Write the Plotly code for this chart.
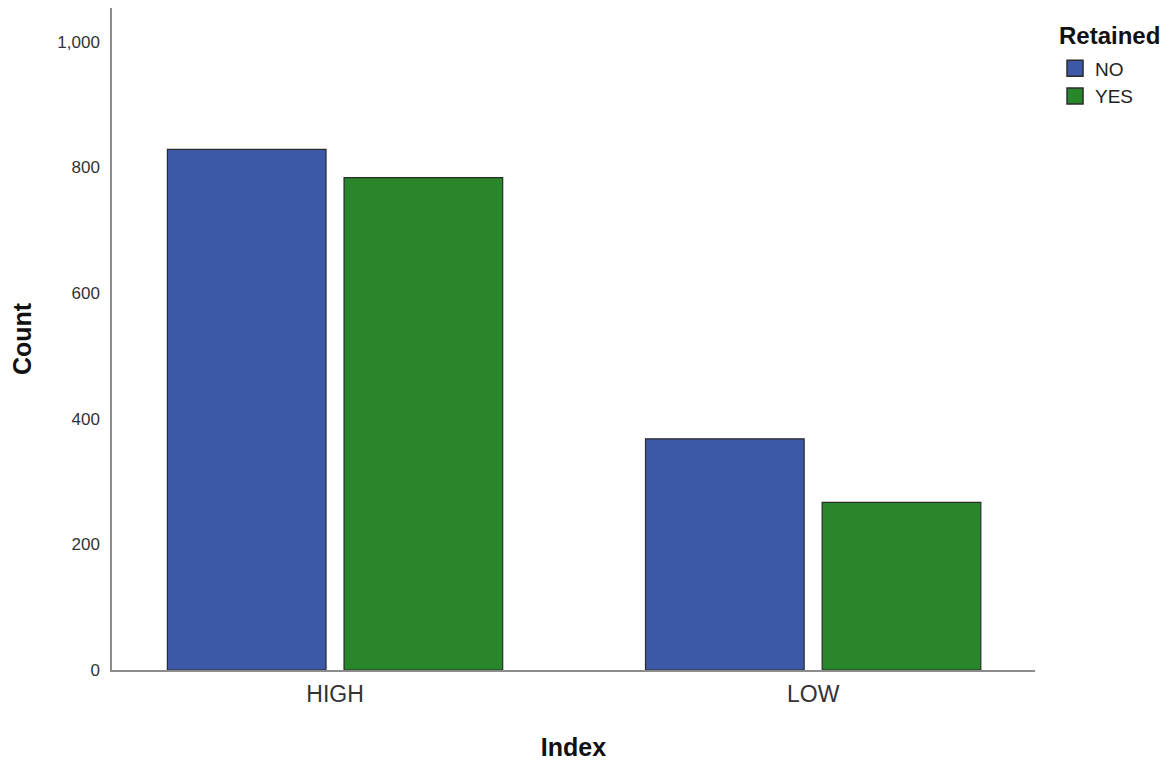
import plotly.graph_objects as go

categories = ["HIGH", "LOW"]
no_counts = [829, 368]
yes_counts = [784, 267]
series_names = ["NO", "YES"]
legend_title = "Retained"
y_ticks = [0, 200, 400, 600, 800, 1000]
y_tick_labels = ["0", "200", "400", "600", "800", "1,000"]

colors = ["#3E58A8", "#29862B"]
edge = "#2b2b2b"

fig = go.Figure()
for name, vals, col in zip(series_names, [no_counts, yes_counts], colors):
    fig.add_trace(go.Bar(
        x=categories, y=vals, name=name, showlegend=False,
        marker=dict(color=col, line=dict(color=edge, width=1.2)),
    ))
# legend entries with larger square swatches
for name, col in zip(series_names, colors):
    fig.add_trace(go.Scatter(
        x=[None], y=[None], name=name, mode="markers",
        marker=dict(symbol="square", size=21, color=col, line=dict(color=edge, width=1.5)),
        showlegend=True, hoverinfo="skip",
    ))

fig.add_annotation(
    text=f"<b>{legend_title}</b>", xref="paper", yref="paper",
    x=1.0238, y=0.959, xanchor="left", yanchor="middle", showarrow=False,
    font=dict(size=24, color="#111"),
)

fig.update_layout(
    width=1169, height=765,
    margin=dict(l=104, r=142, t=0, b=103),
    paper_bgcolor="white", plot_bgcolor="white",
    barmode="group", bargap=0.261, bargroupgap=0.102,
    font=dict(family="Liberation Sans, Arial", color="#222"),
    showlegend=True,
    legend=dict(
        x=1.0217, y=0.9375, xanchor="left", yanchor="top",
        font=dict(size=19, color="#222"),
        itemwidth=30, tracegroupgap=0, itemsizing="trace",
        bgcolor="rgba(0,0,0,0)",
    ),
    xaxis=dict(
        range=[-0.4665, 1.464],
        showline=True, linecolor="#8c8c8c", linewidth=1.5,
        ticks="", tickfont=dict(size=23, color="#333"), ticklabelstandoff=3,
        title=dict(text="<b>Index</b>", font=dict(size=25, color="#111"), standoff=32),
        showgrid=False, zeroline=False,
    ),
    yaxis=dict(
        range=[0, 1054],
        tickvals=y_ticks, ticktext=y_tick_labels,
        showline=True, linecolor="#8c8c8c", linewidth=1.5,
        ticks="", tickfont=dict(size=17, color="#333"), ticklabelstandoff=7,
        title=dict(text="<b>Count</b>", font=dict(size=25, color="#111"), standoff=31),
        showgrid=False, zeroline=False,
    ),
)

fig.write_html("out.html")
